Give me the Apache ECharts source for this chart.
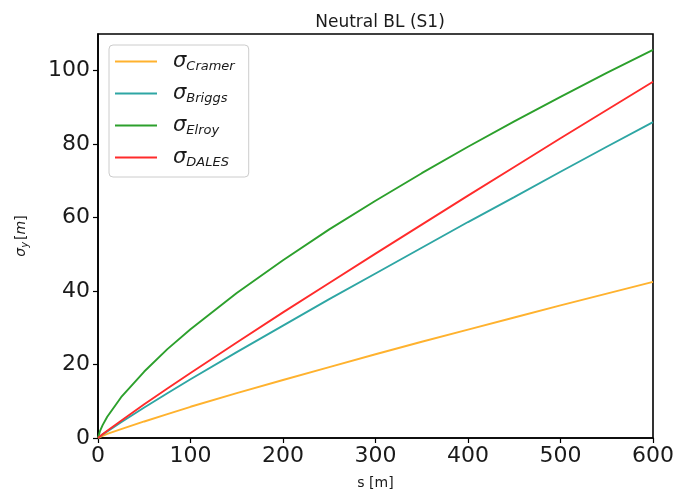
<!DOCTYPE html>
<html>
<head>
<meta charset="utf-8">
<script src="https://cdn.jsdelivr.net/npm/echarts@6/dist/echarts.min.js"></script>
<style>
  html, body { margin: 0; padding: 0; background: #fff; }
  #chart { width: 677px; height: 495px; }
</style>
</head>
<body>
<div id="chart"></div>
<script>
// distance along plume, s [m]
var sValues = [0, 2, 5, 10, 25, 50, 75, 100, 150, 200, 250, 300, 350, 400, 450, 500, 550, 600];

// sigma_y [m]
var cramer = [0, 0.25, 0.6, 1.1, 2.4, 4.5, 6.5, 8.5, 12.2, 15.8, 19.3, 22.8, 26.2, 29.5, 32.8, 36.1, 39.3, 42.5];
var briggs = [0, 0.4, 1.0, 1.8, 4.3, 8.3, 12.2, 16.0, 23.4, 30.6, 37.8, 44.8, 51.8, 58.8, 65.6, 72.5, 79.3, 86.0];
var elroy = [0, 1.8, 3.5, 5.8, 11.1, 18.1, 24.2, 29.6, 39.5, 48.4, 56.8, 64.6, 72.1, 79.3, 86.2, 92.9, 99.4, 105.7];
var dales = [0, 0.4, 1.0, 2.0, 4.7, 9.2, 13.5, 17.7, 26.0, 34.2, 42.2, 50.2, 58.1, 66.0, 73.8, 81.6, 89.3, 97.0];

var xTicks = [0, 100, 200, 300, 400, 500, 600];
var yTicks = [0, 20, 40, 60, 80, 100];

var seriesNames = ['Cramer', 'Briggs', 'Elroy', 'DALES'];
var seriesData = [cramer, briggs, elroy, dales];
var seriesColors = ['#ffb22e', '#2ea6a4', '#2ca02c', '#ff2b2b'];

var FONT = 'DejaVu Sans';

function toPairs(arr) {
    var out = [];
    for (var i = 0; i < sValues.length; i++) {
        out.push([sValues[i], arr[i]]);
    }
    return out;
}

var chart = echarts.init(document.getElementById('chart'), null, { renderer: 'canvas' });

var series = [];
for (var i = 0; i < seriesNames.length; i++) {
    series.push({
        name: seriesNames[i],
        type: 'line',
        data: toPairs(seriesData[i]),
        showSymbol: false,
        lineStyle: { color: seriesColors[i], width: 1.9 },
        itemStyle: { color: seriesColors[i] },
        emphasis: { disabled: true },
        z: 2
    });
}

var option = {
    animation: false,
    backgroundColor: '#fff',
    title: {
        text: 'Neutral BL (S1)',
        left: 375,
        textAlign: 'center',
        top: 9,
        textStyle: { fontFamily: FONT, fontSize: 17, fontWeight: 'normal', color: '#1a1a1a' }
    },
    legend: {
        orient: 'vertical',
        left: 109,
        top: 45,
        data: seriesNames,
        icon: 'rect',
        itemWidth: 42,
        itemHeight: 2,
        itemGap: 9,
        padding: [5, 14, 8, 6],
        borderColor: '#cccccc',
        borderWidth: 1,
        borderRadius: 4,
        backgroundColor: '#fff',
        formatter: function (name) {
            return '{s|σ}{sub|' + name + '}';
        },
        textStyle: {
            rich: {
                s: { fontFamily: FONT, fontStyle: 'italic', fontSize: 21, color: '#1a1a1a', padding: [0, 0, 0, 11], lineHeight: 21 },
                sub: { fontFamily: FONT, fontStyle: 'italic', fontSize: 13, color: '#1a1a1a', padding: [10, 0, 0, 0], lineHeight: 21 }
            }
        }
    },
    grid: {
        left: 98,
        right: 24,
        top: 34,
        bottom: 55,
        show: true,
        borderColor: '#000',
        borderWidth: 1.6,
        backgroundColor: 'transparent'
    },
    xAxis: {
        type: 'value',
        min: 0,
        max: 600,
        interval: 100,
        name: 's [m]',
        nameLocation: 'middle',
        nameGap: 38,
        nameTextStyle: { fontFamily: FONT, fontSize: 14, color: '#1a1a1a' },
        axisLine: { show: true, lineStyle: { color: '#000', width: 1.6 } },
        axisTick: { show: true, length: 5, lineStyle: { color: '#000', width: 1.2 }, customValues: xTicks },
        axisLabel: { fontFamily: FONT, fontSize: 22, color: '#1a1a1a', margin: 7, customValues: xTicks },
        splitLine: { show: false }
    },
    yAxis: {
        type: 'value',
        min: 0,
        max: 110,
        interval: 20,
        name: '{s|σ}{sub|y}{t|[}{m|m}{t|]}',
        nameLocation: 'middle',
        nameGap: 68,
        nameTextStyle: {
            rich: {
                s: { fontFamily: FONT, fontStyle: 'italic', fontSize: 14, color: '#1a1a1a' },
                sub: { fontFamily: FONT, fontStyle: 'italic', fontSize: 10, color: '#1a1a1a', padding: [8, 2, 0, 0] },
                t: { fontFamily: FONT, fontSize: 14, color: '#1a1a1a' },
                m: { fontFamily: FONT, fontStyle: 'italic', fontSize: 14, color: '#1a1a1a' }
            }
        },
        axisLine: { show: true, lineStyle: { color: '#000', width: 1.6 } },
        axisTick: { show: true, length: 5, lineStyle: { color: '#000', width: 1.2 }, customValues: yTicks },
        axisLabel: { fontFamily: FONT, fontSize: 22, color: '#1a1a1a', margin: 8, customValues: yTicks },
        splitLine: { show: false }
    },
    series: series
};

chart.setOption(option);
</script>
</body>
</html>
